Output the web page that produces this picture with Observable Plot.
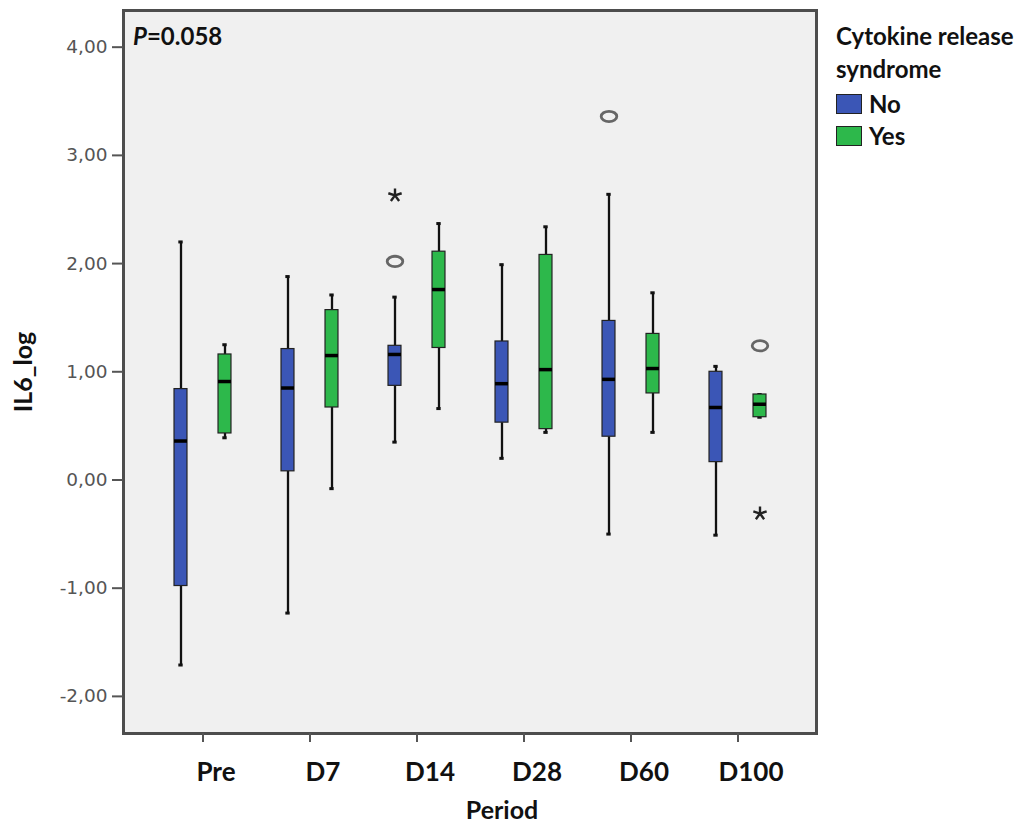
<!DOCTYPE html>
<html>
<head>
<meta charset="utf-8">
<script src="https://cdn.jsdelivr.net/npm/d3@7"></script>
<script src="https://cdn.jsdelivr.net/npm/@observablehq/plot@0.6"></script>
<style>
  body { margin: 0; background: #fff; }
  #chart { position: relative; width: 1030px; height: 826px; font-family: Lato, "Noto Sans", sans-serif; color: #111; }
  #chart svg { position: absolute; left: 0; top: 0; }
  #pvalue { position: absolute; left: 133px; top: 24px; font-weight: 700; font-size: 24px; line-height: 24px; z-index: 1; }
  #legend { position: absolute; left: 836px; top: 19px; font-weight: 700; font-size: 24px; line-height: 33px; z-index: 1; }
  #legend .items { margin-top: 3px; }
  #legend .item { display: flex; align-items: center; height: 32px; line-height: 32px; }
  #legend .swatch { width: 26px; height: 20px; border: 1px solid #222; margin-right: 7px; box-sizing: border-box; }
</style>
</head>
<body>
<div id="chart">
  <div id="pvalue"><i>P</i>=0.058</div>
  <div id="legend"></div>
</div>
<script>
// Study periods on the x axis and the two patient groups within each period
const periods = ["Pre", "D7", "D14", "D28", "D60", "D100"];
const groups = ["No", "Yes"];
const groupColors = ["#3b56b6", "#2db84b"];
const legendTitle = ["Cytokine release", "syndrome"];

// Box summaries of IL6_log per period: [lower whisker, Q1, median, Q3, upper whisker]
const noSummary = [
  [-1.71, -0.98, 0.36, 0.84, 2.20],
  [-1.23, 0.08, 0.85, 1.21, 1.88],
  [0.35, 0.87, 1.16, 1.24, 1.69],
  [0.20, 0.53, 0.89, 1.28, 1.99],
  [-0.50, 0.40, 0.93, 1.47, 2.64],
  [-0.51, 0.165, 0.67, 1.00, 1.05]
];
const yesSummary = [
  [0.39, 0.43, 0.91, 1.16, 1.25],
  [-0.08, 0.67, 1.15, 1.57, 1.71],
  [0.66, 1.22, 1.76, 2.11, 2.37],
  [0.44, 0.47, 1.02, 2.08, 2.34],
  [0.44, 0.80, 1.03, 1.35, 1.73],
  [0.58, 0.58, 0.70, 0.79, 0.79]
];

// Outliers (circles) and extreme values (asterisks)
const outliers = [
  {period: "D14", group: "No", value: 2.02},
  {period: "D60", group: "No", value: 3.36},
  {period: "D100", group: "Yes", value: 1.24}
];
const extremes = [
  {period: "D14", group: "No", value: 2.63},
  {period: "D100", group: "Yes", value: -0.31}
];

const yTicks = [-2, -1, 0, 1, 2, 3, 4];

const boxes = groups.flatMap((group, gi) =>
  (gi === 0 ? noSummary : yesSummary).map(([low, q1, median, q3, high], i) =>
    ({period: periods[i], group, low, q1, median, q3, high})));

// Open ellipse used for outlier markers
const ellipseSymbol = {
  draw(context, size) {
    const rx = Math.sqrt(size / Math.PI), ry = rx * 0.66, k = 0.5523;
    context.moveTo(rx, 0);
    context.bezierCurveTo(rx, ry * k, rx * k, ry, 0, ry);
    context.bezierCurveTo(-rx * k, ry, -rx, ry * k, -rx, 0);
    context.bezierCurveTo(-rx, -ry * k, -rx * k, -ry, 0, -ry);
    context.bezierCurveTo(rx * k, -ry, rx, -ry * k, rx, 0);
    context.closePath();
  }
};
// Five-armed asterisk used for extreme values
const asteriskSymbol = {
  draw(context, size) {
    const r = Math.sqrt(size / Math.PI);
    for (let i = 0; i < 5; ++i) {
      const a = -Math.PI / 2 + i * 2 * Math.PI / 5;
      context.moveTo(0, 0);
      context.lineTo(r * Math.cos(a), r * Math.sin(a));
    }
  }
};

const fmt = d => d.toFixed(2).replace(".", ",");

// Layout of the frame and the band scale over periods
const width = 1030, height = 826;
const margin = {left: 123, right: 214, top: 10, bottom: 93};
const paddingOuter = 0.237;
const bandwidth = (width - margin.left - margin.right) / (periods.length + 2 * paddingOuter);
const groupShift = {No: -22, Yes: 22};   // side-by-side offset of each group within a period
const boxHalf = 6.5, capHalf = 2.2;

// Box-plot marks for one group, shifted to its side of the period band
function groupMarks(group) {
  const rows = boxes.filter(d => d.group === group);
  const dx = groupShift[group];
  const inset = half => ({insetLeft: bandwidth / 2 + dx - half, insetRight: bandwidth / 2 - dx - half});
  return [
    Plot.ruleX(rows, {x: "period", y1: "low", y2: "q1", dx, stroke: "#111", strokeWidth: 2.3}),
    Plot.ruleX(rows, {x: "period", y1: "q3", y2: "high", dx, stroke: "#111", strokeWidth: 2.3}),
    Plot.tickY(rows, {x: "period", y: "low", ...inset(capHalf), stroke: "#111", strokeWidth: 3}),
    Plot.tickY(rows, {x: "period", y: "high", ...inset(capHalf), stroke: "#111", strokeWidth: 3}),
    Plot.barY(rows, {x: "period", y1: "q1", y2: "q3", ...inset(boxHalf), fill: "group", stroke: "#222", strokeWidth: 1.2}),
    Plot.tickY(rows, {x: "period", y: "median", ...inset(boxHalf), stroke: "#000", strokeWidth: 3.5}),
    Plot.dot(outliers.filter(d => d.group === group), {x: "period", y: "value", dx, symbol: ellipseSymbol, r: 7.8, fill: "none", stroke: "#666", strokeWidth: 2.8}),
    Plot.dot(extremes.filter(d => d.group === group), {x: "period", y: "value", dx, symbol: asteriskSymbol, r: 7, fill: "none", stroke: "#222", strokeWidth: 2.4})
  ];
}

const chart = Plot.plot({
  width,
  height,
  marginLeft: margin.left,
  marginRight: margin.right,
  marginTop: margin.top,
  marginBottom: margin.bottom,
  style: {background: "transparent", overflow: "visible"},
  x: {type: "band", domain: periods, paddingInner: 0, paddingOuter, axis: null},
  y: {domain: [-2.343, 4.339], axis: null},
  color: {domain: groups, range: groupColors},
  marks: [
    Plot.frame({fill: "#f0f0f0", stroke: "#4d4d4d", strokeWidth: 3}),
    ...groups.flatMap(g => groupMarks(g)),
    Plot.axisY(yTicks, {
      tickFormat: fmt, tickSize: 11, tickPadding: 5,
      fontSize: 18.5, fontFamily: "DejaVu Sans, sans-serif",
      color: "#555", strokeWidth: 2, label: null
    }),
    // tick marks centred on each period
    Plot.axisX({tickSize: 9, tickFormat: () => "", color: "#555", strokeWidth: 2, label: null}),
    // period names, set slightly to the right of their ticks
    Plot.axisX({
      tickSize: 0, tickPadding: 29, dx: 13, fontSize: 26, fontWeight: "bold",
      fontFamily: "Lato, sans-serif", color: "#111", label: null
    }),
    Plot.text(["IL6_log"], {
      text: d => d, frameAnchor: "left", dx: -100, rotate: -90, textAnchor: "middle",
      fontSize: 25, fontWeight: "bold", fontFamily: "Lato, sans-serif", fill: "#111"
    }),
    Plot.text(["Period"], {
      text: d => d, frameAnchor: "bottom", dx: 32, dy: 85,
      fontSize: 25, fontWeight: "bold", fontFamily: "Lato, sans-serif", fill: "#111"
    })
  ]
});
document.getElementById("chart").prepend(chart);

// Legend for the two groups
const legend = d3.select("#legend");
legend.selectAll("div.title").data(legendTitle).join("div").attr("class", "title").text(d => d);
const items = legend.append("div").attr("class", "items")
  .selectAll("div.item").data(groups).join("div").attr("class", "item");
items.append("div").attr("class", "swatch").style("background", (d, i) => groupColors[i]);
items.append("span").text(d => d);
</script>
</body>
</html>
